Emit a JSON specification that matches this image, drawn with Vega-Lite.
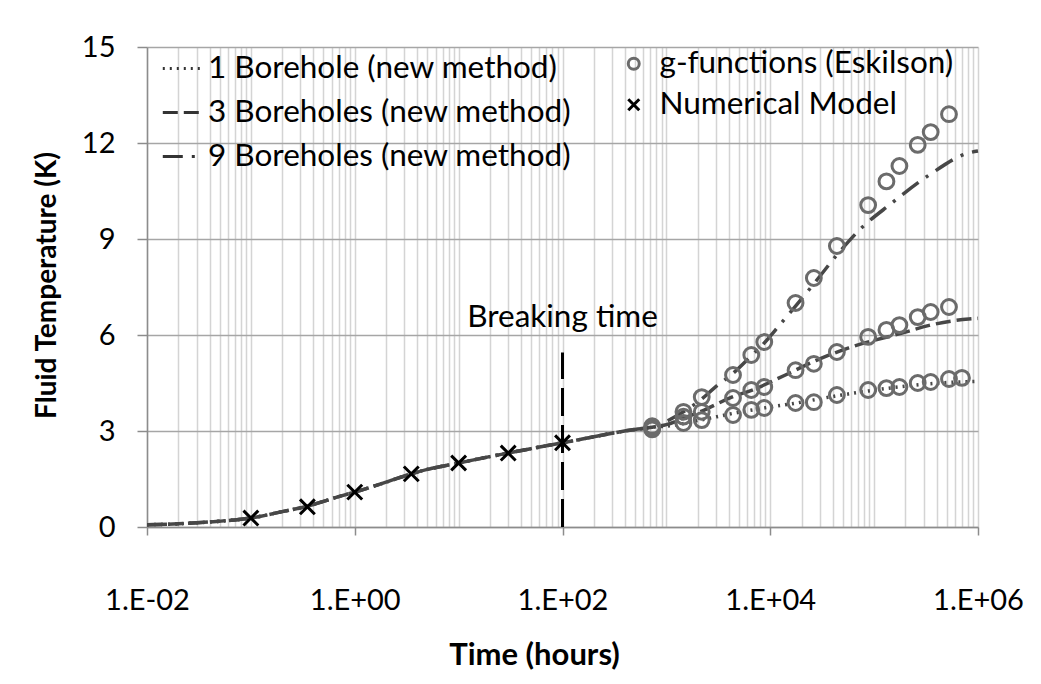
{
  "$schema": "https://vega.github.io/schema/vega-lite/v6.json",
  "autosize": "none",
  "width": 831,
  "height": 480,
  "padding": {"left": 147, "top": 47, "right": 63, "bottom": 157},
  "background": "white",
  "config": {
    "view": {"stroke": null},
    "font": "Lato",
    "text": {"font": "Lato"}
  },
  "datasets": {
    "lines": [
      {"t": 0.01, "T": 0.07, "series": "1 Borehole (new method)"},
      {"t": 0.02, "T": 0.1, "series": "1 Borehole (new method)"},
      {"t": 0.03, "T": 0.13, "series": "1 Borehole (new method)"},
      {"t": 0.05, "T": 0.18, "series": "1 Borehole (new method)"},
      {"t": 0.07, "T": 0.22, "series": "1 Borehole (new method)"},
      {"t": 0.1, "T": 0.28, "series": "1 Borehole (new method)"},
      {"t": 0.2, "T": 0.48, "series": "1 Borehole (new method)"},
      {"t": 0.35, "T": 0.65, "series": "1 Borehole (new method)"},
      {"t": 0.5, "T": 0.8, "series": "1 Borehole (new method)"},
      {"t": 0.7, "T": 0.95, "series": "1 Borehole (new method)"},
      {"t": 1, "T": 1.09, "series": "1 Borehole (new method)"},
      {"t": 2, "T": 1.4, "series": "1 Borehole (new method)"},
      {"t": 3.5, "T": 1.66, "series": "1 Borehole (new method)"},
      {"t": 5, "T": 1.8, "series": "1 Borehole (new method)"},
      {"t": 7, "T": 1.9, "series": "1 Borehole (new method)"},
      {"t": 10, "T": 2.0, "series": "1 Borehole (new method)"},
      {"t": 20, "T": 2.2, "series": "1 Borehole (new method)"},
      {"t": 30, "T": 2.31, "series": "1 Borehole (new method)"},
      {"t": 50, "T": 2.45, "series": "1 Borehole (new method)"},
      {"t": 70, "T": 2.54, "series": "1 Borehole (new method)"},
      {"t": 100, "T": 2.63, "series": "1 Borehole (new method)"},
      {"t": 200, "T": 2.82, "series": "1 Borehole (new method)"},
      {"t": 300, "T": 2.93, "series": "1 Borehole (new method)"},
      {"t": 500, "T": 3.05, "series": "1 Borehole (new method)"},
      {"t": 730, "T": 3.12, "series": "1 Borehole (new method)"},
      {"t": 1000, "T": 3.15, "series": "1 Borehole (new method)"},
      {"t": 2190, "T": 3.35, "series": "1 Borehole (new method)"},
      {"t": 4380, "T": 3.55, "series": "1 Borehole (new method)"},
      {"t": 8760, "T": 3.72, "series": "1 Borehole (new method)"},
      {"t": 17520, "T": 3.87, "series": "1 Borehole (new method)"},
      {"t": 43800, "T": 4.1, "series": "1 Borehole (new method)"},
      {"t": 87600, "T": 4.25, "series": "1 Borehole (new method)"},
      {"t": 175200, "T": 4.38, "series": "1 Borehole (new method)"},
      {"t": 350400, "T": 4.48, "series": "1 Borehole (new method)"},
      {"t": 1000000, "T": 4.55, "series": "1 Borehole (new method)"},

      {"t": 0.01, "T": 0.07, "series": "3 Boreholes (new method)"},
      {"t": 0.02, "T": 0.1, "series": "3 Boreholes (new method)"},
      {"t": 0.03, "T": 0.13, "series": "3 Boreholes (new method)"},
      {"t": 0.05, "T": 0.18, "series": "3 Boreholes (new method)"},
      {"t": 0.07, "T": 0.22, "series": "3 Boreholes (new method)"},
      {"t": 0.1, "T": 0.28, "series": "3 Boreholes (new method)"},
      {"t": 0.2, "T": 0.48, "series": "3 Boreholes (new method)"},
      {"t": 0.35, "T": 0.65, "series": "3 Boreholes (new method)"},
      {"t": 0.5, "T": 0.8, "series": "3 Boreholes (new method)"},
      {"t": 0.7, "T": 0.95, "series": "3 Boreholes (new method)"},
      {"t": 1, "T": 1.09, "series": "3 Boreholes (new method)"},
      {"t": 2, "T": 1.4, "series": "3 Boreholes (new method)"},
      {"t": 3.5, "T": 1.66, "series": "3 Boreholes (new method)"},
      {"t": 5, "T": 1.8, "series": "3 Boreholes (new method)"},
      {"t": 7, "T": 1.9, "series": "3 Boreholes (new method)"},
      {"t": 10, "T": 2.0, "series": "3 Boreholes (new method)"},
      {"t": 20, "T": 2.2, "series": "3 Boreholes (new method)"},
      {"t": 30, "T": 2.31, "series": "3 Boreholes (new method)"},
      {"t": 50, "T": 2.45, "series": "3 Boreholes (new method)"},
      {"t": 70, "T": 2.54, "series": "3 Boreholes (new method)"},
      {"t": 100, "T": 2.63, "series": "3 Boreholes (new method)"},
      {"t": 200, "T": 2.82, "series": "3 Boreholes (new method)"},
      {"t": 300, "T": 2.93, "series": "3 Boreholes (new method)"},
      {"t": 500, "T": 3.05, "series": "3 Boreholes (new method)"},
      {"t": 730, "T": 3.12, "series": "3 Boreholes (new method)"},
      {"t": 1000, "T": 3.2, "series": "3 Boreholes (new method)"},
      {"t": 1460, "T": 3.4, "series": "3 Boreholes (new method)"},
      {"t": 2190, "T": 3.62, "series": "3 Boreholes (new method)"},
      {"t": 4260, "T": 4.06, "series": "3 Boreholes (new method)"},
      {"t": 6700, "T": 4.28, "series": "3 Boreholes (new method)"},
      {"t": 14000, "T": 4.75, "series": "3 Boreholes (new method)"},
      {"t": 27500, "T": 5.2, "series": "3 Boreholes (new method)"},
      {"t": 57000, "T": 5.6, "series": "3 Boreholes (new method)"},
      {"t": 186000, "T": 6.06, "series": "3 Boreholes (new method)"},
      {"t": 339000, "T": 6.3, "series": "3 Boreholes (new method)"},
      {"t": 813000, "T": 6.5, "series": "3 Boreholes (new method)"},
      {"t": 1000000, "T": 6.52, "series": "3 Boreholes (new method)"},

      {"t": 0.01, "T": 0.07, "series": "9 Boreholes (new method)"},
      {"t": 0.02, "T": 0.1, "series": "9 Boreholes (new method)"},
      {"t": 0.03, "T": 0.13, "series": "9 Boreholes (new method)"},
      {"t": 0.05, "T": 0.18, "series": "9 Boreholes (new method)"},
      {"t": 0.07, "T": 0.22, "series": "9 Boreholes (new method)"},
      {"t": 0.1, "T": 0.28, "series": "9 Boreholes (new method)"},
      {"t": 0.2, "T": 0.48, "series": "9 Boreholes (new method)"},
      {"t": 0.35, "T": 0.65, "series": "9 Boreholes (new method)"},
      {"t": 0.5, "T": 0.8, "series": "9 Boreholes (new method)"},
      {"t": 0.7, "T": 0.95, "series": "9 Boreholes (new method)"},
      {"t": 1, "T": 1.09, "series": "9 Boreholes (new method)"},
      {"t": 2, "T": 1.4, "series": "9 Boreholes (new method)"},
      {"t": 3.5, "T": 1.66, "series": "9 Boreholes (new method)"},
      {"t": 5, "T": 1.8, "series": "9 Boreholes (new method)"},
      {"t": 7, "T": 1.9, "series": "9 Boreholes (new method)"},
      {"t": 10, "T": 2.0, "series": "9 Boreholes (new method)"},
      {"t": 20, "T": 2.2, "series": "9 Boreholes (new method)"},
      {"t": 30, "T": 2.31, "series": "9 Boreholes (new method)"},
      {"t": 50, "T": 2.45, "series": "9 Boreholes (new method)"},
      {"t": 70, "T": 2.54, "series": "9 Boreholes (new method)"},
      {"t": 100, "T": 2.63, "series": "9 Boreholes (new method)"},
      {"t": 200, "T": 2.82, "series": "9 Boreholes (new method)"},
      {"t": 300, "T": 2.93, "series": "9 Boreholes (new method)"},
      {"t": 500, "T": 3.05, "series": "9 Boreholes (new method)"},
      {"t": 730, "T": 3.12, "series": "9 Boreholes (new method)"},
      {"t": 1000, "T": 3.3, "series": "9 Boreholes (new method)"},
      {"t": 1460, "T": 3.6, "series": "9 Boreholes (new method)"},
      {"t": 2190, "T": 4.0, "series": "9 Boreholes (new method)"},
      {"t": 2900, "T": 4.35, "series": "9 Boreholes (new method)"},
      {"t": 4380, "T": 4.8, "series": "9 Boreholes (new method)"},
      {"t": 6570, "T": 5.35, "series": "9 Boreholes (new method)"},
      {"t": 8760, "T": 5.75, "series": "9 Boreholes (new method)"},
      {"t": 12600, "T": 6.35, "series": "9 Boreholes (new method)"},
      {"t": 17520, "T": 6.9, "series": "9 Boreholes (new method)"},
      {"t": 26280, "T": 7.6, "series": "9 Boreholes (new method)"},
      {"t": 43800, "T": 8.5, "series": "9 Boreholes (new method)"},
      {"t": 72000, "T": 9.28, "series": "9 Boreholes (new method)"},
      {"t": 145000, "T": 10.1, "series": "9 Boreholes (new method)"},
      {"t": 339000, "T": 11.0, "series": "9 Boreholes (new method)"},
      {"t": 813000, "T": 11.69, "series": "9 Boreholes (new method)"},
      {"t": 1000000, "T": 11.75, "series": "9 Boreholes (new method)"}
    ],
    "points": [
      {"t": 730, "T": 3.05, "type": "g-functions (Eskilson)"},
      {"t": 730, "T": 3.1, "type": "g-functions (Eskilson)"},
      {"t": 730, "T": 3.15, "type": "g-functions (Eskilson)"},
      {"t": 1460, "T": 3.6, "type": "g-functions (Eskilson)"},
      {"t": 1460, "T": 3.45, "type": "g-functions (Eskilson)"},
      {"t": 1460, "T": 3.25, "type": "g-functions (Eskilson)"},
      {"t": 2190, "T": 4.06, "type": "g-functions (Eskilson)"},
      {"t": 2190, "T": 3.6, "type": "g-functions (Eskilson)"},
      {"t": 2190, "T": 3.34, "type": "g-functions (Eskilson)"},
      {"t": 4380, "T": 4.75, "type": "g-functions (Eskilson)"},
      {"t": 4380, "T": 4.03, "type": "g-functions (Eskilson)"},
      {"t": 4380, "T": 3.5, "type": "g-functions (Eskilson)"},
      {"t": 6570, "T": 5.375, "type": "g-functions (Eskilson)"},
      {"t": 6570, "T": 4.28, "type": "g-functions (Eskilson)"},
      {"t": 6570, "T": 3.66, "type": "g-functions (Eskilson)"},
      {"t": 8760, "T": 5.78, "type": "g-functions (Eskilson)"},
      {"t": 8760, "T": 4.375, "type": "g-functions (Eskilson)"},
      {"t": 8760, "T": 3.72, "type": "g-functions (Eskilson)"},
      {"t": 17520, "T": 7.0, "type": "g-functions (Eskilson)"},
      {"t": 17520, "T": 4.9, "type": "g-functions (Eskilson)"},
      {"t": 17520, "T": 3.875, "type": "g-functions (Eskilson)"},
      {"t": 26280, "T": 7.78, "type": "g-functions (Eskilson)"},
      {"t": 26280, "T": 5.1, "type": "g-functions (Eskilson)"},
      {"t": 26280, "T": 3.9, "type": "g-functions (Eskilson)"},
      {"t": 43800, "T": 8.78, "type": "g-functions (Eskilson)"},
      {"t": 43800, "T": 5.47, "type": "g-functions (Eskilson)"},
      {"t": 43800, "T": 4.125, "type": "g-functions (Eskilson)"},
      {"t": 87600, "T": 10.06, "type": "g-functions (Eskilson)"},
      {"t": 87600, "T": 5.94, "type": "g-functions (Eskilson)"},
      {"t": 87600, "T": 4.28, "type": "g-functions (Eskilson)"},
      {"t": 131400, "T": 10.8, "type": "g-functions (Eskilson)"},
      {"t": 131400, "T": 6.16, "type": "g-functions (Eskilson)"},
      {"t": 131400, "T": 4.34, "type": "g-functions (Eskilson)"},
      {"t": 175200, "T": 11.28, "type": "g-functions (Eskilson)"},
      {"t": 175200, "T": 6.31, "type": "g-functions (Eskilson)"},
      {"t": 175200, "T": 4.375, "type": "g-functions (Eskilson)"},
      {"t": 262800, "T": 11.94, "type": "g-functions (Eskilson)"},
      {"t": 262800, "T": 6.56, "type": "g-functions (Eskilson)"},
      {"t": 262800, "T": 4.5, "type": "g-functions (Eskilson)"},
      {"t": 350400, "T": 12.34, "type": "g-functions (Eskilson)"},
      {"t": 350400, "T": 6.72, "type": "g-functions (Eskilson)"},
      {"t": 350400, "T": 4.53, "type": "g-functions (Eskilson)"},
      {"t": 525600, "T": 12.9, "type": "g-functions (Eskilson)"},
      {"t": 525600, "T": 6.875, "type": "g-functions (Eskilson)"},
      {"t": 525600, "T": 4.625, "type": "g-functions (Eskilson)"},
      {"t": 700800, "T": 4.66, "type": "g-functions (Eskilson)"},
      {"t": 0.1, "T": 0.28, "type": "Numerical Model"},
      {"t": 0.35, "T": 0.63, "type": "Numerical Model"},
      {"t": 1, "T": 1.09, "type": "Numerical Model"},
      {"t": 3.5, "T": 1.66, "type": "Numerical Model"},
      {"t": 10, "T": 2.0, "type": "Numerical Model"},
      {"t": 30, "T": 2.31, "type": "Numerical Model"},
      {"t": 100, "T": 2.63, "type": "Numerical Model"}
    ],
    "marker": [
      {"t": 100, "T0": 0, "T1": 5.45, "label": "Breaking time", "Tl": 6.53}
    ]
  },
  "encoding": {
    "x": {
      "field": "t",
      "type": "quantitative",
      "scale": {"type": "log", "domain": [0.01, 1000000], "nice": false},
      "axis": {
        "title": "Time (hours)",
        "titleFont": "Lato",
        "titleFontSize": 31,
        "titleFontWeight": "bold",
        "titleColor": "#000000",
        "titleX": 387,
        "titleY": 128,
        "titleBaseline": "middle",
        "titleAlign": "center",
        "values": [0.01,0.02,0.03,0.04,0.05,0.06,0.07,0.08,0.09,0.1,0.2,0.3,0.4,0.5,0.6,0.7,0.8,0.9,1,2,3,4,5,6,7,8,9,10,20,30,40,50,60,70,80,90,100,200,300,400,500,600,700,800,900,1000,2000,3000,4000,5000,6000,7000,8000,9000,10000,20000,30000,40000,50000,60000,70000,80000,90000,100000,200000,300000,400000,500000,600000,700000,800000,900000,1000000],
        "labelExpr": "(abs(log(datum.value)/LN10 - 2*round(log(datum.value)/LN10/2)) < 0.001) ? ('1.E' + (datum.value < 1 ? '-' : '+') + '0' + abs(round(log(datum.value)/LN10))) : ''",
        "labelFont": "Lato",
        "labelFontSize": 29,
        "labelColor": "#000000",
        "labelPadding": 51,
        "labelOverlap": false,
        "labelFlush": false,
        "labelBound": false,
        "tickSize": 8,
        "tickWidth": 1.5,
        "tickColor": "#8c8c8c",
        "tickOpacity": {"condition": {"test": "abs(log(datum.value)/LN10 - 2*round(log(datum.value)/LN10/2)) < 0.001", "value": 1}, "value": 0},
        "grid": true,
        "gridColor": "#d4d4d4",
        "gridWidth": 1.5,
        "domainColor": "#8c8c8c",
        "domainWidth": 1.5
      }
    },
    "y": {
      "field": "T",
      "type": "quantitative",
      "scale": {"domain": [0, 15], "nice": false},
      "axis": {
        "title": "Fluid Temperature (K)",
        "titleFont": "Lato",
        "titleFontSize": 28,
        "titleFontWeight": "bold",
        "titleColor": "#000000",
        "titleX": -100,
        "titleY": 238,
        "titleAngle": -90,
        "titleAlign": "center",
        "titleBaseline": "middle",
        "values": [0, 3, 6, 9, 12, 15],
        "labelFont": "Lato",
        "labelFontSize": 29,
        "labelColor": "#000000",
        "labelPadding": 22,
        "tickSize": 10,
        "tickWidth": 1.5,
        "tickColor": "#8c8c8c",
        "grid": true,
        "gridColor": "#a6a6a6",
        "gridWidth": 1.5,
        "domainColor": "#8c8c8c",
        "domainWidth": 1.5
      }
    }
  },
  "layer": [
    {
      "data": {"name": "lines"},
      "mark": {"type": "line", "color": "#474747", "strokeWidth": 3.5, "interpolate": "monotone"},
      "encoding": {
        "detail": {"field": "series"},
        "strokeDash": {
          "field": "series",
          "type": "nominal",
          "scale": {
            "domain": ["1 Borehole (new method)", "3 Boreholes (new method)", "9 Boreholes (new method)"],
            "range": [[2, 5], [15, 6], [20, 9, 3, 9]]
          },
          "legend": {
            "title": null,
            "orient": "none",
            "legendX": 14,
            "legendY": 1,
            "padding": 0,
            "rowPadding": 8,
            "symbolType": "stroke",
            "symbolSize": 1400,
            "symbolStrokeWidth": 3,
            "symbolStrokeColor": "#333333",
            "labelFont": "Lato",
            "labelFontSize": 31.5,
            "labelColor": "#000000",
            "labelOffset": 6,
            "labelLimit": 500
          }
        }
      }
    },
    {
      "data": {"name": "marker"},
      "mark": {"type": "rule", "color": "#000000", "strokeWidth": 3, "strokeDash": [28, 9]},
      "encoding": {
        "x": {"field": "t", "type": "quantitative"},
        "y": {"field": "T0", "type": "quantitative"},
        "y2": {"field": "T1"}
      }
    },
    {
      "data": {"name": "marker"},
      "mark": {"type": "text", "font": "Lato", "fontSize": 31.5, "color": "#000000", "align": "center", "baseline": "middle"},
      "encoding": {
        "x": {"field": "t", "type": "quantitative"},
        "y": {"field": "Tl", "type": "quantitative"},
        "text": {"field": "label"}
      }
    },
    {
      "data": {"name": "points"},
      "mark": {"type": "point", "filled": false, "strokeWidth": 3, "size": 220, "opacity": 1},
      "encoding": {
        "shape": {
          "field": "type",
          "type": "nominal",
          "scale": {
            "domain": ["g-functions (Eskilson)", "Numerical Model"],
            "range": ["circle", "M-1,-1L1,1M1,-1L-1,1"]
          },
          "legend": {
            "title": null,
            "orient": "none",
            "legendX": 471,
            "legendY": 1,
            "padding": 0,
            "rowPadding": 8,
            "symbolSize": 120,
            "symbolStrokeWidth": 3,
            "labelFont": "Lato",
            "labelFontSize": 31.5,
            "labelColor": "#000000",
            "labelOffset": 10,
            "labelLimit": 500
          }
        },
        "color": {
          "field": "type",
          "type": "nominal",
          "scale": {
            "domain": ["g-functions (Eskilson)", "Numerical Model"],
            "range": ["#6b6b6b", "#000000"]
          },
          "legend": {
            "title": null,
            "orient": "none",
            "legendX": 471,
            "legendY": 1,
            "padding": 0,
            "rowPadding": 8,
            "symbolSize": 120,
            "symbolStrokeWidth": 3,
            "labelFont": "Lato",
            "labelFontSize": 31.5,
            "labelColor": "#000000",
            "labelOffset": 10,
            "labelLimit": 500
          }
        }
      }
    }
  ]
}
